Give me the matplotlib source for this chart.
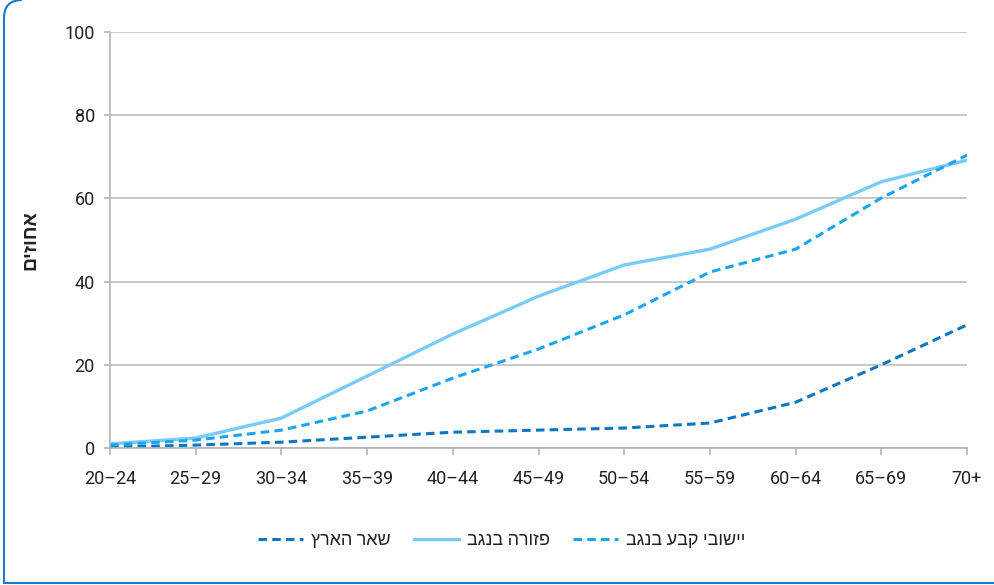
import numpy as np
import matplotlib.pyplot as plt
from matplotlib.path import Path
from matplotlib.patches import PathPatch

# ============================================================
# Data
# ============================================================
age_groups = ['20–24', '25–29', '30–34', '35–39', '40–44', '45–49',
              '50–54', '55–59', '60–64', '65–69', '70+']

rest_of_country = [0.2, 0.7, 1.4, 2.6, 3.8, 4.3, 4.8, 6.0, 11.0, 20.0, 29.6]
dispersed_negev = [1.0, 2.4, 7.2, 17.3, 27.4, 36.5, 44.0, 47.8, 55.0, 64.0, 69.2]
permanent_negev = [0.7, 1.9, 4.3, 8.9, 16.8, 23.8, 32.0, 42.3, 47.8, 60.1, 70.4]

labels = ['שאר הארץ', 'פזורה בנגב', 'יישובי קבע בנגב']
y_label = 'אחוזים'
y_ticks = [0, 20, 40, 60, 80, 100]


def rtl(s):
    # matplotlib has no bidi support, flip Hebrew for display
    return s[::-1]


plt.rcParams['font.family'] = ['Roboto', 'Liberation Sans', 'DejaVu Sans']

fig = plt.figure(figsize=(9.95, 5.85), dpi=100)
ax = fig.add_axes([0.1106, 0.2342, 0.8613, 0.7111])

x = np.arange(len(age_groups))
ax.plot(x, rest_of_country, color='#0b77c0', lw=2.2, ls=(0, (2.8, 1.7)),
        label=rtl(labels[0]))
ax.plot(x, dispersed_negev, color='#78cbfb', lw=2.4, ls='-',
        label=rtl(labels[1]))
ax.plot(x, permanent_negev, color='#1ba4ef', lw=2.2, ls=(0, (2.8, 1.7)),
        label=rtl(labels[2]))

ax.set_xlim(0, len(age_groups) - 1)
ax.set_ylim(0, 100)
ax.set_xticks(x)
ax.set_xticklabels(age_groups, fontsize=13, color='#222222')
ax.set_yticks(y_ticks)
ax.set_yticklabels([str(v) for v in y_ticks], fontsize=13, color='#222222')

ax.grid(axis='y', color='#c0c0c0', lw=1.2)
ax.set_axisbelow(True)
for side in ['top', 'right']:
    ax.spines[side].set_visible(False)
for side in ['left', 'bottom']:
    ax.spines[side].set_color('#b5b5b5')
    ax.spines[side].set_linewidth(1.2)
ax.tick_params(axis='x', color='#b5b5b5', length=5, width=1.2, pad=11)
ax.tick_params(axis='y', color='#b5b5b5', length=4, width=1.2, pad=7)

ax.set_ylabel(rtl(y_label), fontsize=14, fontweight='bold', color='#222222',
              labelpad=18)

leg = ax.legend(loc='center', bbox_to_anchor=(0.457, -0.221), ncol=3,
                frameon=False, fontsize=13, handlelength=2.5,
                columnspacing=1.25, handletextpad=0.45)
for t in leg.get_texts():
    t.set_color('#222222')

# outer frame: left and bottom edge with rounded top-left corner
W, H = 995, 585
xl, yb, r = 4 / W, 2 / H, 18
verts = [(1.0, yb), (xl, yb), (xl, 1 - r / H), (xl, 1.0), (xl + r / W, 1.0)]
codes = [Path.MOVETO, Path.LINETO, Path.LINETO, Path.CURVE3, Path.CURVE3]
fig.patches.append(PathPatch(Path(verts, codes), transform=fig.transFigure,
                             fill=False, edgecolor='#1f78c1', lw=1.5))

fig.savefig('out.png', dpi=100)
